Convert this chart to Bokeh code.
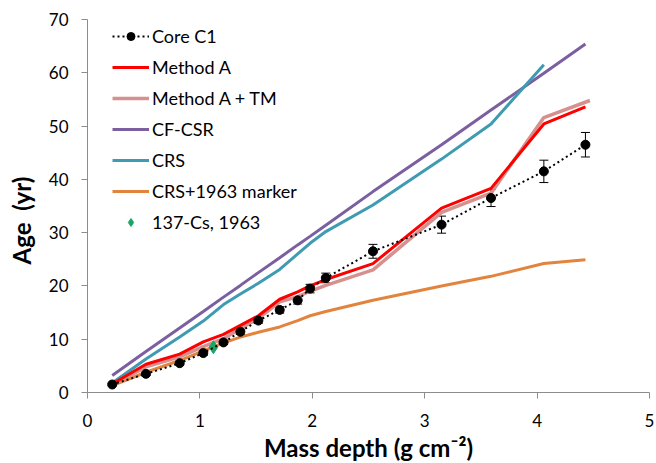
from bokeh.plotting import figure
from bokeh.models import Range1d, ColumnDataSource, Whisker, Legend, LegendItem
from bokeh.embed import file_html
from bokeh.resources import INLINE

# Mass depth (g cm-2) for core samples
core_x = [0.22, 0.52, 0.82, 1.03, 1.21, 1.36, 1.52, 1.71, 1.87, 1.98, 2.12, 2.54, 3.15, 3.59, 4.06, 4.43]
core_age = [1.5, 3.5, 5.5, 7.4, 9.4, 11.4, 13.5, 15.5, 17.3, 19.5, 21.5, 26.5, 31.5, 36.5, 41.5, 46.5]
core_err = [0.2, 0.3, 0.3, 0.4, 0.4, 0.5, 0.5, 0.6, 0.7, 0.8, 0.9, 1.3, 1.6, 1.6, 2.1, 2.3]

method_a = [1.6, 5.3, 7.2, 9.5, 10.9, 12.6, 14.4, 17.5, 18.9, 20.0, 21.2, 24.2, 34.6, 38.3, 50.4, 53.6]

tm_x = [0.22, 0.52, 0.82, 1.03, 1.21, 1.36, 1.52, 1.71, 1.87, 1.98, 2.12, 2.54, 3.15, 3.59, 4.06, 4.47]
method_a_tm = [1.4, 4.8, 6.7, 8.6, 10.1, 12.0, 13.9, 17.0, 18.0, 19.0, 20.1, 23.0, 33.8, 37.4, 51.6, 54.8]

cf_csr = [3.2, 7.7, 12.1, 15.2, 17.9, 20.1, 22.5, 25.3, 27.7, 29.3, 31.4, 37.7, 46.5, 53.0, 59.9, 65.4]

crs_x = [0.22, 0.52, 0.82, 1.03, 1.21, 1.36, 1.52, 1.71, 1.87, 1.98, 2.12, 2.54, 3.15, 3.59, 4.06]
crs = [1.8, 6.3, 10.4, 13.4, 16.5, 18.5, 20.5, 23.1, 26.0, 28.0, 30.2, 35.2, 43.8, 50.4, 61.5]

crs_1963 = [1.3, 3.8, 6.0, 7.8, 9.3, 10.4, 11.3, 12.3, 13.5, 14.4, 15.2, 17.3, 20.0, 21.8, 24.2, 24.9]

cs_x = [1.12]
cs_age = [8.5]

x_ticks = [0, 1, 2, 3, 4, 5]
y_ticks = [0, 10, 20, 30, 40, 50, 60, 70]

FONT = "Lato"

p = figure(frame_width=562, frame_height=373, output_backend="svg", toolbar_location=None,
           x_range=Range1d(0, 5), y_range=Range1d(0, 70),
           min_border_left=87, min_border_right=7, min_border_top=19, min_border_bottom=70)
p.background_fill_color = "white"
p.border_fill_color = "white"
p.outline_line_color = None
p.xgrid.visible = False
p.ygrid.visible = False

for ax in (p.xaxis, p.yaxis):
    ax.axis_line_color = "#8c8c8c"
    ax.axis_line_width = 1
    ax.major_tick_line_color = "#8c8c8c"
    ax.major_tick_out = 6
    ax.major_tick_in = 0
    ax.minor_tick_line_color = None
    ax.major_label_text_font = FONT
    ax.major_label_text_font_size = "17px"
    ax.major_label_text_color = "#000000"
    ax.axis_label_text_font = FONT
    ax.axis_label_text_font_size = "24px"
    ax.axis_label_text_font_style = "bold"
    ax.axis_label_text_color = "#000000"

p.xaxis.ticker = x_ticks
p.yaxis.ticker = y_ticks
p.xaxis.axis_label = "Mass depth (g cm\u207b\u00b2)"
p.yaxis.axis_label = "Age\u00a0 (yr)" + "\u00a0" * 5
p.xaxis.major_label_standoff = 15
p.yaxis.major_label_standoff = 13
p.xaxis.axis_label_standoff = 3
p.yaxis.axis_label_standoff = 10

src = ColumnDataSource(dict(x=core_x, y=core_age,
                            lo=[a - e for a, e in zip(core_age, core_err)],
                            hi=[a + e for a, e in zip(core_age, core_err)]))

core_line = p.line("x", "y", source=src, line_color="black", line_width=2, line_dash="2 3")
core_pts = p.scatter("x", "y", source=src, marker="circle", size=9, fill_color="black", line_color="black")
wh = Whisker(base="x", lower="lo", upper="hi", source=src, line_color="black", line_width=1)
wh.upper_head.size = 9
wh.lower_head.size = 9
wh.upper_head.line_color = "black"
wh.lower_head.line_color = "black"
p.add_layout(wh)

r_crs1963 = p.line(core_x, crs_1963, line_color="#E2843E", line_width=3)
r_cf = p.line(core_x, cf_csr, line_color="#7B5FA0", line_width=3)
r_crs = p.line(crs_x, crs, line_color="#3E9BB2", line_width=3)
r_tm = p.line(tm_x, method_a_tm, line_color="#D6918F", line_width=3.5)
r_a = p.line(core_x, method_a, line_color="#FF0000", line_width=3)
r_cs = p.scatter(cs_x, cs_age, marker="diamond", size=13,
                 fill_color="#1BA567", line_color="#1BA567")

# bring core on top
p.renderers.remove(core_line)
p.renderers.remove(core_pts)
p.renderers.extend([core_line, core_pts])

legend = Legend(items=[
    LegendItem(label="Core C1", renderers=[core_line, core_pts]),
    LegendItem(label="Method A", renderers=[r_a]),
    LegendItem(label="Method A + TM", renderers=[r_tm]),
    LegendItem(label="CF-CSR", renderers=[r_cf]),
    LegendItem(label="CRS", renderers=[r_crs]),
    LegendItem(label="CRS+1963 marker", renderers=[r_crs1963]),
    LegendItem(label="137-Cs, 1963", renderers=[r_cs]),
], location=(25, 159))
legend.background_fill_alpha = 0
legend.border_line_color = None
legend.label_text_font = FONT
legend.label_text_font_size = "18px"
legend.label_text_color = "#000000"
legend.glyph_width = 37
legend.glyph_height = 20
legend.label_height = 20
legend.spacing = 9
legend.padding = 5
legend.margin = 0
legend.label_standoff = 3
p.add_layout(legend)

open("out.html", "w").write(file_html(p, INLINE))
